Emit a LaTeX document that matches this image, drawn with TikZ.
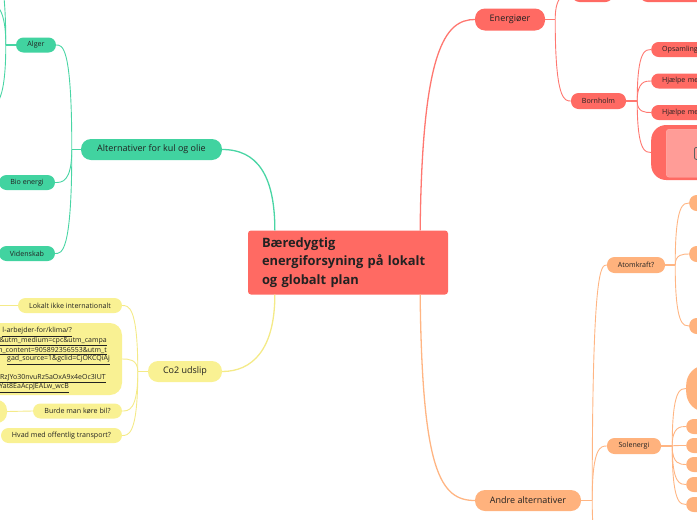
\documentclass[tikz,border=0pt]{standalone}
\usepackage{fontspec}
\setmainfont{Open Sans}
\usetikzlibrary{calc}
\definecolor{cred}{HTML}{FF6A63}
\definecolor{credl}{HTML}{FF7770}
\definecolor{credlight}{HTML}{FF9C97}
\definecolor{cgreen}{HTML}{41D3A0}
\definecolor{cgreenl}{HTML}{49D5A4}
\definecolor{cyellow}{HTML}{F9F193}
\definecolor{cyellowl}{HTML}{F4EA88}
\definecolor{corange}{HTML}{FFB27D}
\definecolor{corangel}{HTML}{FFB583}
\definecolor{ctext}{HTML}{222222}
\newcommand\mmchild[3]{\draw[#1] (#2) .. controls (#2 |- #3) and ($(#2 |- #3)!0.6!(#3)$) .. (#3);}
\begin{document}
\begin{tikzpicture}[x=1pt,y=-1pt,
  every node/.style={inner sep=0pt, text=ctext},
  root/.style={fill=cred, rounded corners=3pt, font=\fontsize{12.9}{18.5}\selectfont\bfseries, align=left, text width=172pt, minimum height=64pt, inner xsep=14pt},
  mainb/.style={rounded corners=10pt, minimum height=21pt, font=\fontsize{9}{10}\selectfont},
  leaf/.style={rounded corners=7.5pt, minimum height=15pt, font=\fontsize{7.1}{8}\selectfont},
  wleaf/.style={leaf, anchor=west, align=left, text width=70pt, inner xsep=11pt},
  urltxt/.style={font=\fontsize{7}{8}\selectfont, anchor=east},
  glink/.style={draw=cgreenl, line width=0.9pt},
  ylink/.style={draw=cyellowl, line width=0.9pt},
  rlink/.style={draw=credl, line width=0.9pt},
  olink/.style={draw=corangel, line width=0.9pt},
  stub/.style={line width=1.8pt},
  mainlink/.style={line width=1.3pt}]
\useasboundingbox (0,0) rectangle (697,520);
\clip (0,0) rectangle (697,520);

% ---------- root
\node[root] (c) at (348,262.5) {Bæredygtig\\energiforsyning på lokalt\\og globalt plan};

% ---------- green branch
\node[mainb, fill=cgreen, minimum width=141pt] (alt) at (151.5,149.5) {Alternativer for kul og olie};
\node[leaf, fill=cgreen, minimum width=40pt] (alger) at (36,45) {Alger};
\node[leaf, fill=cgreen, minimum width=56pt] (bio) at (27,182.5) {Bio energi};
\node[leaf, fill=cgreen, minimum width=56pt] (vid) at (27,253.5) {Videnskab};
\coordinate (tAlt) at ($(alt.west)+(-9,0)$);
\draw[glink, stub] (alt.west) -- (tAlt);
\mmchild{glink}{tAlt}{alger.east}
\mmchild{glink}{tAlt}{bio.east}
\mmchild{glink}{tAlt}{vid.east}
\coordinate (tAlg) at ($(alger.west)+(-10,0)$);
\coordinate (ag1) at (-14,-40);
\coordinate (ag2) at (-14,3);
\coordinate (ag3) at (-14,108);
\draw[glink, stub] (alger.west) -- (tAlg);
\mmchild{glink}{tAlg}{ag1}
\mmchild{glink}{tAlg}{ag2}
\mmchild{glink}{tAlg}{ag3}

% ---------- yellow branch
\node[mainb, fill=cyellow, minimum width=74pt] (co2) at (185,371.5) {Co2 udslip};
\node[leaf, fill=cyellow, minimum width=104pt] (lok) at (70,305.5) {Lokalt ikke internationalt};
\node[fill=cyellow, rounded corners=12pt, minimum width=232pt, minimum height=72pt] (url) at (6,359) {};
\node[leaf, fill=cyellow, minimum width=89pt] (burde) at (77.5,411) {Burde man køre bil?};
\node[fill=cyellow, rounded corners=10pt, minimum width=54pt, minimum height=23pt] (bil) at (-20,411.5) {};
\node[leaf, fill=cyellow, minimum width=121pt] (hvad) at (61.5,435.5) {Hvad med offentlig transport?};
\node[urltxt] (u1) at (72,332) {\underline{l-arbejder-for/klima/?}};
\node[urltxt] (u2) at (107,341.5) {\underline{\&utm\_medium=cpc\&utm\_campa}};
\node[urltxt] (u3) at (107,351) {\underline{m\_content=905892356553\&utm\_t}};
\node[urltxt] (u4) at (110,360) {\underline{gad\_source=1\&gclid=CjOKCQiAj}};
\node[urltxt] (u5) at (106,379) {\underline{RzJYo30nvuRz5aOxA9x4eOc3IUT}};
\node[urltxt] (u6) at (69,388) {\underline{Yat8EaAcpJEALw\_wcB}};
\coordinate (tCo2) at ($(co2.west)+(-10,0)$);
\draw[ylink, stub] (co2.west) -- (tCo2);
\mmchild{ylink}{tCo2}{lok.east}
\mmchild{ylink}{tCo2}{url.east}
\mmchild{ylink}{tCo2}{burde.east}
\mmchild{ylink}{tCo2}{hvad.east}
\coordinate (lokc) at (-20,305.5);
\draw[ylink] (lok.west) -- (lokc);
\draw[ylink] (burde.west) -- (bil.east);

% ---------- red branch
\node[mainb, fill=cred, minimum width=70pt, minimum height=22pt] (ener) at (510,19.5) {Energiøer};
\node[leaf, fill=cred, minimum width=41pt, minimum height=16pt] (etop) at (592.5,-6) {};
\node[leaf, fill=cred, minimum width=80pt, minimum height=16pt] (etop2) at (680,-6) {};
\node[leaf, fill=cred, minimum width=55pt, minimum height=16pt] (born) at (598.5,101) {Bornholm};
\coordinate (tEn) at ($(ener.east)+(10,0)$);
\draw[rlink, stub] (ener.east) -- (tEn);
\mmchild{rlink}{tEn}{etop.west}
\mmchild{rlink}{tEn}{born.west}
\draw[rlink] (etop.east) -- (etop2.west);
\node[wleaf, fill=cred] (ops) at (651,49.5) {Opsamling};
\node[wleaf, fill=cred] (hj1) at (651,81) {Hjælpe me};
\node[wleaf, fill=cred] (hj2) at (651,112.5) {Hjælpe me};
\node[fill=cred, rounded corners=15pt, anchor=west, minimum width=100pt, minimum height=55pt] (bigr) at (651,152.5) {};
\node[fill=credlight, draw=credlight!80!white, rounded corners=3pt, anchor=north west, minimum width=60pt, minimum height=48pt] (bigri) at (666,129) {};
\node[draw=gray!75!black, line width=0.8pt, rounded corners=2pt, anchor=north west, minimum width=10pt, minimum height=12pt] (icon) at (694,147) {};
\coordinate (tBo) at ($(born.east)+(11,0)$);
\draw[rlink, stub] (born.east) -- (tBo);
\mmchild{rlink}{tBo}{ops.west}
\mmchild{rlink}{tBo}{hj1.west}
\mmchild{rlink}{tBo}{hj2.west}
\mmchild{rlink}{tBo}{bigr.west}

% ---------- orange branch
\node[mainb, fill=corange, minimum width=106pt] (andre) at (528,500.5) {Andre alternativer};
\node[leaf, fill=corange, minimum width=58pt, minimum height=16pt] (atom) at (636,265) {Atomkraft?};
\node[leaf, fill=corange, minimum width=54pt, minimum height=16pt] (sol) at (634,446) {Solenergi};
\coordinate (tAn) at ($(andre.east)+(11,0)$);
\coordinate (aoff) at (612,565);
\draw[olink, stub] (andre.east) -- (tAn);
\mmchild{olink}{tAn}{atom.west}
\mmchild{olink}{tAn}{sol.west}
\mmchild{olink}{tAn}{aoff}
\node[leaf, fill=corange, anchor=west, minimum width=40pt, minimum height=16pt] (a1) at (689,203) {};
\node[leaf, fill=corange, anchor=west, minimum width=40pt, minimum height=16pt] (a2) at (689,254) {};
\node[leaf, fill=corange, anchor=west, minimum width=40pt, minimum height=16pt] (a3) at (689,326) {};
\coordinate (tAt) at ($(atom.east)+(10,0)$);
\draw[olink, stub] (atom.east) -- (tAt);
\mmchild{olink}{tAt}{a1.west}
\mmchild{olink}{tAt}{a2.west}
\mmchild{olink}{tAt}{a3.west}
\node[fill=corange, rounded corners=20pt, anchor=west, minimum width=60pt, minimum height=47pt] (sbig) at (686,388.5) {};
\node[leaf, fill=corange, anchor=west, minimum width=40pt] (s1) at (686,426.5) {};
\node[leaf, fill=corange, anchor=west, minimum width=40pt] (s2) at (686,445.5) {};
\node[leaf, fill=corange, anchor=west, minimum width=40pt] (s3) at (686,464.5) {};
\node[leaf, fill=corange, anchor=west, minimum width=40pt] (s4) at (686,484.5) {};
\node[leaf, fill=corange, anchor=west, minimum width=40pt] (s5) at (686,504.5) {};
\coordinate (tSo) at ($(sol.east)+(11,0)$);
\draw[olink, stub] (sol.east) -- (tSo);
\mmchild{olink}{tSo}{sbig.west}
\mmchild{olink}{tSo}{s1.west}
\mmchild{olink}{tSo}{s2.west}
\mmchild{olink}{tSo}{s3.west}
\mmchild{olink}{tSo}{s4.west}
\mmchild{olink}{tSo}{s5.west}

% ---------- root links
\coordinate (cTL) at ($(c.north west)!0.135!(c.north east)$);
\coordinate (cTR) at ($(c.north west)!0.86!(c.north east)$);
\coordinate (cBL) at ($(c.south west)!0.135!(c.south east)$);
\coordinate (cBR) at ($(c.south west)!0.86!(c.south east)$);
\draw[glink, mainlink] (cTL) .. controls ($(cTL)+(0,-55)$) and ($(alt.east)+(35,0)$) .. (alt.east);
\draw[rlink, mainlink] (cTR) .. controls ($(cTR)+(2,-180)$) and ($(ener.west)+(-30,0)$) .. (ener.west);
\draw[ylink, mainlink] (cBL) .. controls ($(cBL)+(0,55)$) and ($(co2.east)+(30,0)$) .. (co2.east);
\draw[olink, mainlink] (cBR) .. controls ($(cBR)+(2,175)$) and ($(andre.west)+(-35,0)$) .. (andre.west);
\end{tikzpicture}
\end{document}
